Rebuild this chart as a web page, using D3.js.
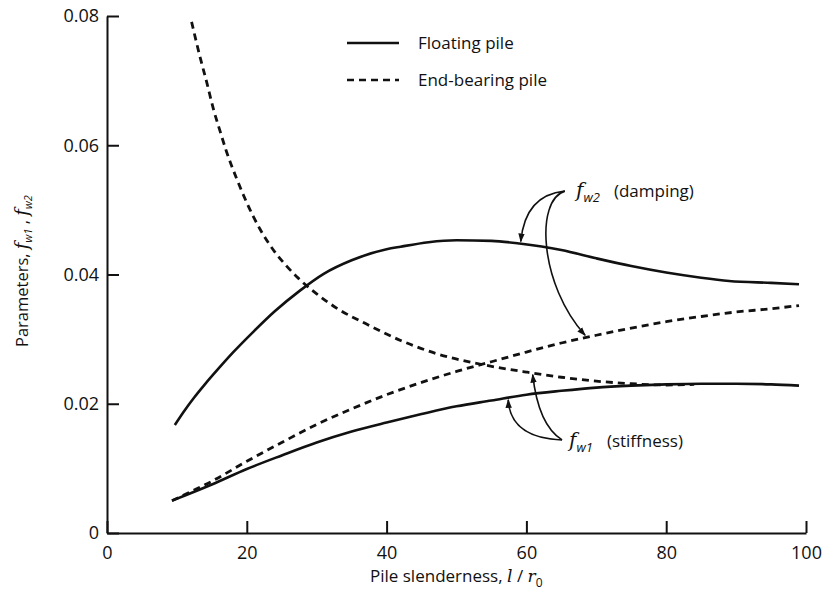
<!DOCTYPE html>
<html>
<head>
<meta charset="utf-8">
<script src="https://cdn.jsdelivr.net/npm/d3@7"></script>
<style>
  html, body { margin: 0; padding: 0; background: #fff; }
  svg { display: block; font-family: "Open Sans", "DejaVu Sans", sans-serif; }
  .axis path, .axis line { stroke: #111; stroke-width: 2; }
  .axis text { font-size: 18px; fill: #111; font-family: "Open Sans", sans-serif; }
</style>
</head>
<body>
<svg id="chart" width="826" height="610"></svg>
<script>
// Pile slenderness l/r0 against stiffness and damping parameters f_w1, f_w2

// Floating pile, damping parameter f_w2
const floatDampX = [9.7, 11, 12.5, 14, 16, 18, 21, 24, 27.6, 31, 35, 40, 42, 46, 50, 55, 59, 65, 70, 75, 80, 85, 89, 95, 99];
const floatDampY = [0.0167, 0.0188, 0.0210, 0.0230, 0.0255, 0.0279, 0.0312, 0.0343, 0.0375, 0.0401, 0.0422, 0.0439, 0.0443, 0.0450, 0.0453, 0.0452, 0.0448, 0.0438, 0.0425, 0.0413, 0.0403, 0.0395, 0.0390, 0.0387, 0.0385];

// Floating pile, stiffness parameter f_w1
const floatStiffX = [9.3, 15, 20, 25, 30, 35, 40, 45, 50, 55, 60, 65, 70, 75, 80, 85, 90, 95, 99];
const floatStiffY = [0.0050, 0.0075, 0.0099, 0.0120, 0.0140, 0.0157, 0.0171, 0.0184, 0.0196, 0.0205, 0.0214, 0.0220, 0.0225, 0.0228, 0.0230, 0.0231, 0.0231, 0.0230, 0.0228];

// End-bearing pile, stiffness parameter f_w1 (falling curve)
const endStiffX = [12.1, 13.3, 14.3, 15.2, 16.2, 17.1, 18.6, 20, 21.9, 23.8, 25.7, 27.4, 30, 33, 37, 42, 47, 54, 60, 65, 70, 75, 80, 84];
const endStiffY = [0.0791, 0.0737, 0.0696, 0.0657, 0.0621, 0.0590, 0.0547, 0.0511, 0.0470, 0.0438, 0.0413, 0.0394, 0.0370, 0.0347, 0.0324, 0.0298, 0.0278, 0.0260, 0.0249, 0.0241, 0.0235, 0.0231, 0.0229, 0.0230];

// End-bearing pile, damping parameter f_w2 (rising curve)
const endDampX = [9.3, 12, 15, 20, 25, 30, 35, 40, 45, 50, 55, 60, 65, 70, 75, 80, 85, 90, 95, 99];
const endDampY = [0.0050, 0.0064, 0.0080, 0.0111, 0.0140, 0.0168, 0.0192, 0.0214, 0.0233, 0.0250, 0.0265, 0.0280, 0.0294, 0.0306, 0.0317, 0.0327, 0.0335, 0.0342, 0.0347, 0.0352];

// Axis ticks
const xTicks = [0, 20, 40, 60, 80, 100];
const xTickLabels = ["0", "20", "40", "60", "80", "100"];
const yTicks = [0, 0.02, 0.04, 0.06, 0.08];
const yTickLabels = ["0", "0.02", "0.04", "0.06", "0.08"];

// Legend
const legendLabels = ["Floating pile", "End-bearing pile"];
const legendDash = [null, "7,5"];

const svg = d3.select("#chart");
svg.append("rect").attr("width", 826).attr("height", 610).attr("fill", "#fff");

const x = d3.scaleLinear().domain([0, 100]).range([107, 806]);
const y = d3.scaleLinear().domain([0, 0.08]).range([533, 16]);

// arrowhead marker for the annotation leaders
svg.append("defs").append("marker")
  .attr("id", "arrow")
  .attr("viewBox", "0 -4 9 8")
  .attr("refX", 8).attr("refY", 0)
  .attr("markerWidth", 9).attr("markerHeight", 8)
  .attr("markerUnits", "userSpaceOnUse")
  .attr("orient", "auto")
  .append("path").attr("d", "M0,-3.2L9,0L0,3.2Z").attr("fill", "#111");

// axes with inward ticks
const xAxis = d3.axisBottom(x).tickValues(xTicks)
  .tickFormat((d, i) => xTickLabels[i]).tickSizeInner(-12).tickSizeOuter(0).tickPadding(13);
const yAxis = d3.axisLeft(y).tickValues(yTicks)
  .tickFormat((d, i) => yTickLabels[i]).tickSizeInner(-12).tickSizeOuter(0).tickPadding(8);

svg.append("g").attr("class", "axis").attr("transform", `translate(0,${y(0)})`).call(xAxis);
svg.append("g").attr("class", "axis").attr("transform", `translate(${x(0)},0)`).call(yAxis);

// curves
const line = d3.line().x(d => x(d[0])).y(d => y(d[1])).curve(d3.curveMonotoneX);
const series = [
  { xs: floatDampX, ys: floatDampY, dash: null },
  { xs: floatStiffX, ys: floatStiffY, dash: null },
  { xs: endStiffX, ys: endStiffY, dash: "7,5" },
  { xs: endDampX, ys: endDampY, dash: "7,5" }
];
series.forEach(s => {
  svg.append("path")
    .datum(s.xs.map((v, i) => [v, s.ys[i]]))
    .attr("d", line)
    .attr("fill", "none")
    .attr("stroke", "#111")
    .attr("stroke-width", s.dash ? 2.8 : 2.6)
    .attr("stroke-dasharray", s.dash)
    .attr("stroke-linejoin", "round");
});

// legend
const lg = svg.append("g");
legendLabels.forEach((lab, i) => {
  const ly = 43 + i * 37;
  lg.append("line").attr("x1", 347).attr("x2", 399).attr("y1", ly).attr("y2", ly)
    .attr("stroke", "#111").attr("stroke-width", 2.6)
    .attr("stroke-dasharray", legendDash[i]);
  lg.append("text").attr("x", 418).attr("y", ly + 6)
    .attr("font-size", 17).attr("fill", "#111").text(lab);
});

// annotation leaders, drawn in data space
const P = (a, b) => [x(a), y(b)];
function leader(pts) {
  const p = d3.path();
  p.moveTo(...pts[0]);
  if (pts.length === 3) p.quadraticCurveTo(...pts[1], ...pts[2]);
  else p.bezierCurveTo(...pts[1], ...pts[2], ...pts[3]);
  svg.append("path").attr("d", p.toString()).attr("fill", "none")
    .attr("stroke", "#111").attr("stroke-width", 1.6)
    .attr("marker-end", "url(#arrow)");
}
// f_w2 leaders
leader([P(65.5, 0.0529), P(59.8, 0.0523), P(59.2, 0.0451)]);
leader([P(65.5, 0.0529), P(61.2, 0.0515), P(61.9, 0.0384), P(68.4, 0.0306)]);
// f_w1 leaders
leader([P(65.1, 0.0144), P(57.7, 0.0147), P(57.4, 0.0206)]);
leader([P(65.1, 0.0144), P(61.7, 0.0167), P(60.9, 0.0245)]);

// annotation labels
function paramLabel(px, py, sub, word) {
  const t = svg.append("text").attr("x", px).attr("y", py).attr("fill", "#111");
  t.append("tspan").attr("font-style", "italic").attr("font-size", 20).attr("font-family", "'DejaVu Serif', serif").text("f");
  t.append("tspan").attr("font-style", "italic").attr("font-size", 13).attr("dy", 5).text(sub);
  t.append("tspan").attr("font-size", 17).attr("dy", -5).attr("dx", 14).text(word);
}
paramLabel(576, 197, "w2", "(damping)");
paramLabel(569, 447, "w1", "(stiffness)");

// axis titles
const xt = svg.append("text").attr("x", 370).attr("y", 582).attr("font-size", 17).attr("fill", "#111");
xt.append("tspan").text("Pile slenderness,  ");
xt.append("tspan").attr("font-style", "italic").attr("font-family", "'DejaVu Serif', serif").text("l");
xt.append("tspan").text(" / ");
xt.append("tspan").attr("font-style", "italic").attr("font-family", "'DejaVu Serif', serif").text("r");
xt.append("tspan").attr("font-size", 12).attr("dy", 5).text("0");

const yt = svg.append("text").attr("transform", "translate(28,347) rotate(-90)")
  .attr("font-size", 16.5).attr("fill", "#111");
yt.append("tspan").text("Parameters, ");
yt.append("tspan").attr("font-style", "italic").attr("font-family", "'DejaVu Serif', serif").attr("font-size", 18).text("f");
yt.append("tspan").attr("font-style", "italic").attr("font-size", 11).attr("dy", 4).text("w1");
yt.append("tspan").attr("dy", -4).text(" , ");
yt.append("tspan").attr("font-style", "italic").attr("font-family", "'DejaVu Serif', serif").attr("font-size", 18).text("f");
yt.append("tspan").attr("font-style", "italic").attr("font-size", 11).attr("dy", 4).text("w2");
</script>
</body>
</html>
